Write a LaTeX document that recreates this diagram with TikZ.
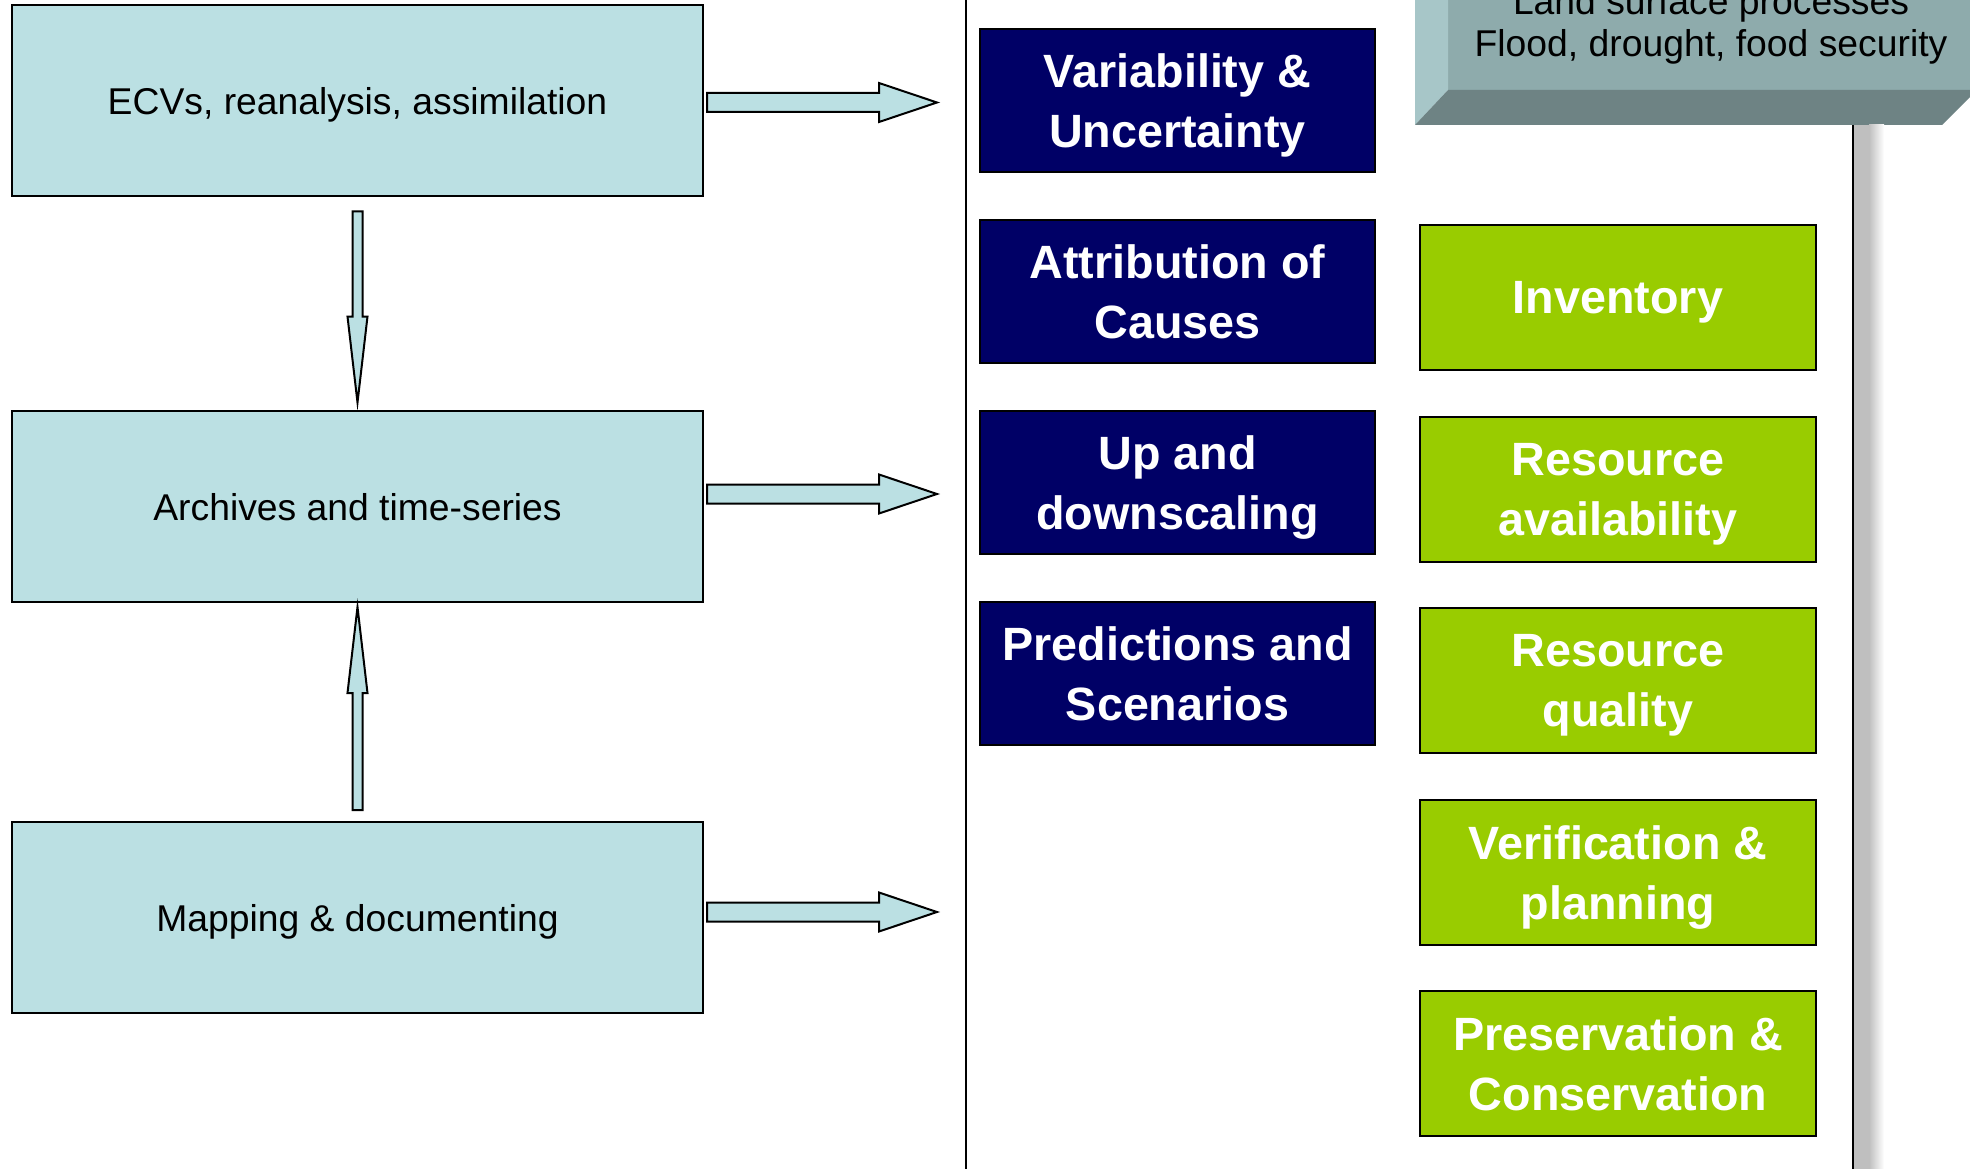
\documentclass[tikz,border=0pt]{standalone}
\usepackage{fontspec}
\setmainfont{Liberation Sans}
\usetikzlibrary{calc}
\definecolor{boxblue}{HTML}{BBE0E3}
\definecolor{navy}{HTML}{000066}
\definecolor{lime}{HTML}{99CC00}
\definecolor{bevfront}{HTML}{8EABAC}
\definecolor{bevleft}{HTML}{A7C6C8}
\definecolor{bevbottom}{HTML}{6E8384}
\begin{document}
\begin{tikzpicture}[x=1pt,y=-1pt,
  leftbox/.style={draw=black, line width=2pt, fill=boxblue, minimum width=691pt, minimum height=191pt,
    inner sep=0pt, text depth=0pt, font=\fontsize{37.3}{44}\selectfont},
  navybox/.style={draw=black, line width=2pt, fill=navy, text=white, minimum width=395pt, minimum height=143pt,
    inner sep=0pt, align=center, text depth=0pt, font=\fontsize{46.7}{60.3}\selectfont\bfseries},
  greenbox/.style={navybox, fill=lime, minimum width=396pt, minimum height=145pt},
  fatarrow/.style={draw=black, line width=2pt, fill=boxblue, line join=miter},
  bevtext/.style={anchor=base, inner sep=0pt, font=\fontsize{37.3}{44}\selectfont},
  divider/.style={draw=black, line width=2pt}]
\useasboundingbox (0,0) rectangle (1970,1169);
\clip (0,0) rectangle (1970,1169);

% beveled header box (top right)
\fill[bevfront] (1448,-10) rectangle (1980,90);
\fill[bevleft] (1415,-10) -- (1448,-10) -- (1448,90) -- (1415,125) -- cycle;
\fill[bevbottom] (1415,125) -- (1448,90) -- (1977,90) -- (1942,125) -- cycle;
\node[bevtext] (t1) at (1711,15) {Land surface processes};
\node[bevtext] (t2) at (1711,56.5) {Flood, drought, food security};

% right shadow and divider lines
\fill[gray!50] (1854,125) rectangle (1869,1175);
\shade[left color=gray!50, right color=white] (1869,125) rectangle (1884,1175);
\coordinate (r1) at (1853,125);
\coordinate (r2) at (1853,1175);
\draw[divider] (r1) -- (r2);
\coordinate (m1) at (966,-5);
\coordinate (m2) at (966,1175);
\draw[divider] (m1) -- (m2);

% left boxes
\node[leftbox] (b1) at (357.5,101) {ECVs, reanalysis, assimilation};
\node[leftbox] (b2) at (357.5,506.5) {Archives and time-series};
\node[leftbox] (b3) at (357.5,917.5) {Mapping \& documenting};

% navy boxes
\node[navybox] (n1) at (1177.5,100.5) {Variability \&\\Uncertainty};
\node[navybox] (n2) at (1177.5,291.5) {Attribution of\\Causes};
\node[navybox] (n3) at (1177.5,482.5) {Up and\\downscaling};
\node[navybox] (n4) at (1177.5,673.5) {Predictions and\\Scenarios};

% green boxes
\node[greenbox] (g1) at (1618,297.5) {Inventory};
\node[greenbox] (g2) at (1618,489.5) {Resource\\availability};
\node[greenbox] (g3) at (1618,680.5) {Resource\\quality};
\node[greenbox] (g4) at (1618,872.5) {Verification \&\\planning};
\node[greenbox] (g5) at (1618,1063.5) {Preservation \&\\Conservation};

% horizontal block arrows
\draw[fatarrow, shift={($(b1.east)+(0,1.5)$)}] (3,-9.5) -- (175,-9.5) -- (175,-19.5) -- (233,0) -- (175,19.5) -- (175,9.5) -- (3,9.5) -- cycle;
\draw[fatarrow, shift={($(b2.east)+(0,-12.5)$)}] (3,-9.5) -- (175,-9.5) -- (175,-19.5) -- (233,0) -- (175,19.5) -- (175,9.5) -- (3,9.5) -- cycle;
\draw[fatarrow, shift={($(b3.east)+(0,-5.5)$)}] (3,-9.5) -- (175,-9.5) -- (175,-19.5) -- (233,0) -- (175,19.5) -- (175,9.5) -- (3,9.5) -- cycle;

% vertical block arrows
\draw[fatarrow, shift={(b1.south)}] (-5,14) -- (-5,119) -- (-10,119) -- (0,205) -- (10,119) -- (5,119) -- (5,14) -- cycle;
\draw[fatarrow, shift={(b3.north)}] (-5,-11) -- (-5,-128) -- (-10,-128) -- (0,-214) -- (10,-128) -- (5,-128) -- (5,-11) -- cycle;
\end{tikzpicture}
\end{document}
